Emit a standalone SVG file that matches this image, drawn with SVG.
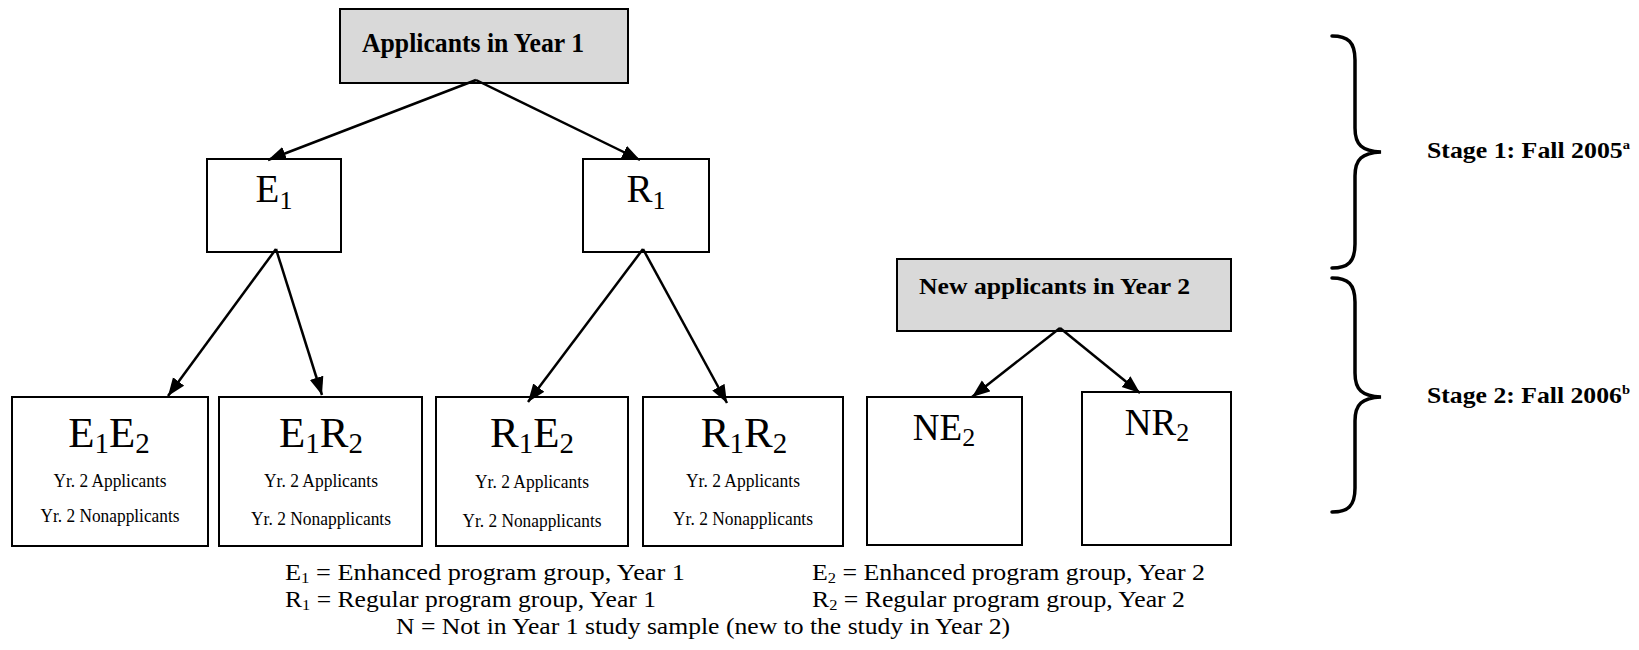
<svg xmlns="http://www.w3.org/2000/svg" width="1639" height="650" viewBox="0 0 1639 650">
<style>
  .box { fill: #ffffff; stroke: #000000; stroke-width: 2; }
  .gbox { fill: #d9d9d9; stroke: #000000; stroke-width: 2; }
  text { font-family: "Liberation Serif", "Times New Roman", serif; fill: #000000; }
  .hd { font-weight: bold; }
  .big { font-size: 39px; }
  .big45 { font-size: 43px; }
  .big35 { font-size: 37px; }
  .small { font-size: 19px; }
  .leg { font-size: 23.5px; }
  .stage { font-size: 23px; font-weight: bold; }
  .conn { stroke: #000000; stroke-width: 2.5; fill: none; marker-end: url(#ah); }
  .brace { stroke: #000000; stroke-width: 3.5; fill: none; stroke-linecap: round; }
</style>
<defs>
  <marker id="ah" markerUnits="userSpaceOnUse" markerWidth="20" markerHeight="16" refX="18" refY="7" orient="auto">
    <path d="M0,0 L18,7 L0,14 z" fill="#000000"/>
  </marker>
</defs>
<rect width="1639" height="650" fill="#ffffff"/>

<g id="applicants-y1">
  <rect class="gbox" x="340" y="9" width="288" height="74"/>
  <text class="hd" x="362" y="52" font-size="28" textLength="222" lengthAdjust="spacingAndGlyphs">Applicants in Year 1</text>
</g>
<g id="E1">
  <rect class="box" x="207" y="159" width="134" height="93"/>
  <text class="big" x="274" y="202" text-anchor="middle">E<tspan font-size="26" dy="7">1</tspan></text>
</g>
<g id="R1">
  <rect class="box" x="583" y="159" width="126" height="93"/>
  <text class="big" x="646" y="202" text-anchor="middle">R<tspan font-size="26" dy="7">1</tspan></text>
</g>
<g id="E1E2">
  <rect class="box" x="12" y="397" width="196" height="149"/>
  <text class="big45" x="109" y="447" text-anchor="middle">E<tspan font-size="29" dy="6">1</tspan><tspan dy="-6">E</tspan><tspan font-size="29" dy="6">2</tspan></text>
  <text class="small" x="110" y="487" text-anchor="middle" textLength="113" lengthAdjust="spacingAndGlyphs">Yr. 2 Applicants</text>
  <text class="small" x="110" y="522" text-anchor="middle" textLength="139" lengthAdjust="spacingAndGlyphs">Yr. 2 Nonapplicants</text>
</g>
<g id="E1R2">
  <rect class="box" x="219" y="397" width="203" height="149"/>
  <text class="big45" x="321" y="447" text-anchor="middle">E<tspan font-size="29" dy="6">1</tspan><tspan dy="-6">R</tspan><tspan font-size="29" dy="6">2</tspan></text>
  <text class="small" x="321" y="487" text-anchor="middle" textLength="114" lengthAdjust="spacingAndGlyphs">Yr. 2 Applicants</text>
  <text class="small" x="321" y="525" text-anchor="middle" textLength="140" lengthAdjust="spacingAndGlyphs">Yr. 2 Nonapplicants</text>
</g>
<g id="R1E2">
  <rect class="box" x="436" y="397" width="192" height="149"/>
  <text class="big45" x="532" y="447" text-anchor="middle">R<tspan font-size="29" dy="6">1</tspan><tspan dy="-6">E</tspan><tspan font-size="29" dy="6">2</tspan></text>
  <text class="small" x="532" y="488" text-anchor="middle" textLength="114" lengthAdjust="spacingAndGlyphs">Yr. 2 Applicants</text>
  <text class="small" x="532" y="527" text-anchor="middle" textLength="139" lengthAdjust="spacingAndGlyphs">Yr. 2 Nonapplicants</text>
</g>
<g id="R1R2">
  <rect class="box" x="643" y="397" width="200" height="149"/>
  <text class="big45" x="744" y="447" text-anchor="middle">R<tspan font-size="29" dy="6">1</tspan><tspan dy="-6">R</tspan><tspan font-size="29" dy="6">2</tspan></text>
  <text class="small" x="743" y="487" text-anchor="middle" textLength="114" lengthAdjust="spacingAndGlyphs">Yr. 2 Applicants</text>
  <text class="small" x="743" y="525" text-anchor="middle" textLength="140" lengthAdjust="spacingAndGlyphs">Yr. 2 Nonapplicants</text>
</g>
<g id="new-applicants-y2">
  <rect class="gbox" x="897" y="259" width="334" height="72"/>
  <text class="hd" x="919" y="294" font-size="23" textLength="271" lengthAdjust="spacingAndGlyphs">New applicants in Year 2</text>
</g>
<g id="NE2">
  <rect class="box" x="867" y="397" width="155" height="148"/>
  <text class="big35" x="944" y="440" text-anchor="middle">NE<tspan font-size="26" dy="6">2</tspan></text>
</g>
<g id="NR2">
  <rect class="box" x="1082" y="392" width="149" height="153"/>
  <text class="big35" x="1157" y="435" text-anchor="middle">NR<tspan font-size="26" dy="6">2</tspan></text>
</g>

<g id="connectors">
  <line class="conn" x1="476" y1="80" x2="268" y2="160"/>
  <line class="conn" x1="476" y1="80" x2="640" y2="160"/>
  <line class="conn" x1="276" y1="249" x2="168" y2="396"/>
  <line class="conn" x1="276" y1="249" x2="322" y2="395"/>
  <line class="conn" x1="643" y1="249" x2="528" y2="402"/>
  <line class="conn" x1="643" y1="249" x2="727" y2="403"/>
  <line class="conn" x1="1060" y1="328" x2="972" y2="397"/>
  <line class="conn" x1="1060" y1="328" x2="1140" y2="393"/>
</g>

<g id="stage1">
  <path class="brace" d="M1332,36 C1348,36 1355,42 1355,60 L1355,128 C1355,145 1362,151 1381,152 C1362,153 1355,159 1355,176 L1355,244 C1355,262 1348,268 1332,268"/>
  <text class="stage" x="1427" y="158" textLength="203" lengthAdjust="spacingAndGlyphs">Stage 1: Fall 2005<tspan font-size="13" dy="-9">a</tspan></text>
</g>
<g id="stage2">
  <path class="brace" d="M1332,278 C1348,278 1355,284 1355,302 L1355,373 C1355,390 1362,396 1381,397 C1362,398 1355,404 1355,421 L1355,488 C1355,506 1348,512 1332,512"/>
  <text class="stage" x="1427" y="403" textLength="203" lengthAdjust="spacingAndGlyphs">Stage 2: Fall 2006<tspan font-size="13" dy="-9">b</tspan></text>
</g>

<g id="legend">
  <text class="leg" x="285" y="580" textLength="400" lengthAdjust="spacingAndGlyphs">E<tspan font-size="15" dy="3">1</tspan><tspan dy="-3"> = Enhanced program group, Year 1</tspan></text>
  <text class="leg" x="812" y="580" textLength="393" lengthAdjust="spacingAndGlyphs">E<tspan font-size="15" dy="3">2</tspan><tspan dy="-3"> = Enhanced program group, Year 2</tspan></text>
  <text class="leg" x="285" y="607" textLength="371" lengthAdjust="spacingAndGlyphs">R<tspan font-size="15" dy="3">1</tspan><tspan dy="-3"> = Regular program group, Year 1</tspan></text>
  <text class="leg" x="812" y="607" textLength="373" lengthAdjust="spacingAndGlyphs">R<tspan font-size="15" dy="3">2</tspan><tspan dy="-3"> = Regular program group, Year 2</tspan></text>
  <text class="leg" x="396" y="634" textLength="614" lengthAdjust="spacingAndGlyphs">N = Not in Year 1 study sample (new to the study in Year 2)</text>
</g>
</svg>
